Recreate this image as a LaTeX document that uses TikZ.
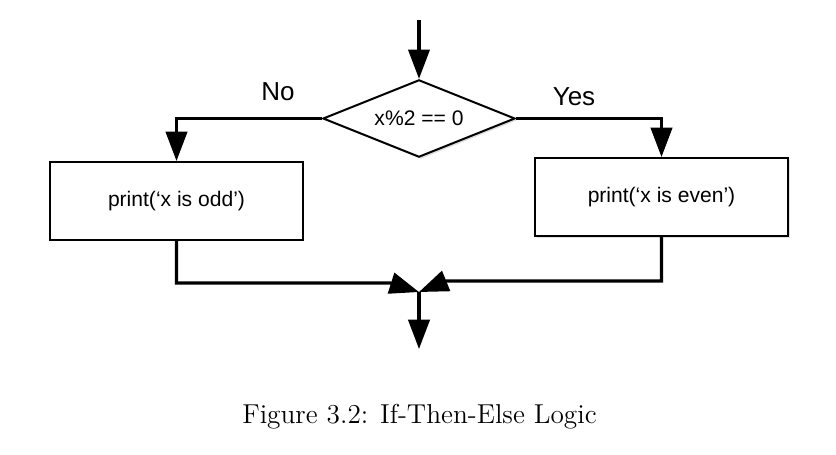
\documentclass[tikz,border=0pt]{standalone}
\usepackage{fontspec}
\newfontfamily\diagfont{Liberation Sans}
\newfontfamily\capfont{lmroman12-regular}[Extension=.otf]
\usetikzlibrary{arrows.meta,shapes.geometric,shadows}

\tikzset{every picture/.style={line width=0.75pt}}
\tikzset{
  flow/.style={line width=2.3pt, -{Triangle[length=22pt,width=16pt]}},
  decision/.style={draw, diamond, aspect=2.5, inner sep=0pt, line width=1.5pt, fill=white,
    minimum width=144pt, minimum height=58pt, font=\diagfont\fontsize{15.8}{18}\selectfont,
    drop shadow={opacity=0.25, shadow xshift=1.5pt, shadow yshift=-1.5pt}},
  action/.style={draw, rectangle, inner sep=0pt, line width=1.5pt, fill=white,
    minimum width=190pt, minimum height=58.5pt, font=\diagfont\fontsize{15.8}{18}\selectfont},
  answer/.style={font=\diagfont\fontsize{19.5}{22}\selectfont},
  caption/.style={font=\capfont\fontsize{20.5}{24}\selectfont}
}

\begin{document}
\begin{tikzpicture}[x=0.75pt,y=0.75pt,yscale=-1,xscale=1]
\useasboundingbox (0,0) rectangle (836,454);

%Shape: Diamond
\node[decision] (test) at (419,118.5) {x\%2 == 0};
%Shape: Rectangle
\node[action] (odd) at (176.5,201) {print(‘x is odd’)};
%Shape: Rectangle
\node[action, drop shadow={opacity=0.25, shadow xshift=1.5pt, shadow yshift=-1.5pt}] (even) at (661.5,197) {print(‘x is even’)};

%Labels
\node[answer] (no) at (278,92) {No};
\node[answer] (yes) at (574,97) {Yes};

%Free ends
\coordinate (in) at (419,20);
\coordinate (join) at (419,292);
\coordinate (lbend) at (390.5,283);
\coordinate (rbend) at (446,281);
\coordinate (out) at (419,349);

%Straight Lines
\draw[flow] (in) -- (test.north);
\draw[flow] (test.west) -| (odd.north);
\draw[flow] (test.east) -| (even.north);
\draw[flow] (odd.south) |- (lbend) -- (join);
\draw[flow] (even.south) |- (rbend) -- (join);
\draw[flow] (join) -- (out);

%Caption
\node[caption] (cap) at (419.5,417) {Figure 3.2: If-Then-Else Logic};

\end{tikzpicture}
\end{document}
